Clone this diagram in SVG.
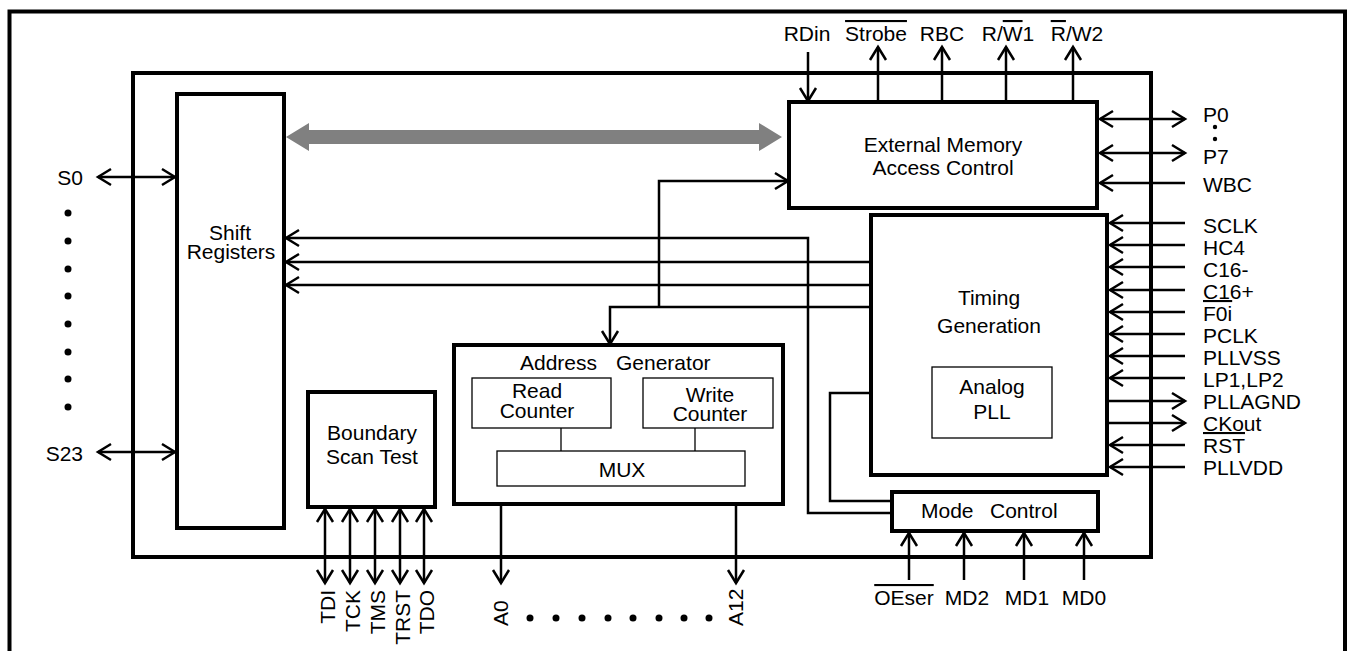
<svg xmlns="http://www.w3.org/2000/svg" width="1351" height="651" viewBox="0 0 1351 651">
<defs>
<style>
.k{fill:none;stroke:#000;stroke-width:4}
.t{fill:none;stroke:#000;stroke-width:1.3}
.w{fill:none;stroke:#000;stroke-width:2.5}
.a{marker-end:url(#ah)}
.d{marker-start:url(#ah);marker-end:url(#ah)}
text{font-family:"Liberation Sans",Arial,Helvetica,sans-serif;font-size:21px;fill:#000}
.c{text-anchor:middle}
.e{text-anchor:end}
.o{text-decoration:overline}
</style>
<marker id="ah" markerUnits="userSpaceOnUse" viewBox="-16 -10 18 20" markerWidth="18" markerHeight="20" refX="0" refY="0" orient="auto-start-reverse" overflow="visible">
<path d="M-13,-8 L0,0 L-13,8" fill="none" stroke="#000" stroke-width="2.5"/>
</marker>
</defs>
<rect width="1351" height="651" fill="#fff"/>
<rect id="frame" x="9.5" y="11.5" width="1335.5" height="700" class="k"/>
<g id="chip"><rect x="133" y="73" width="1018" height="484" class="k"/></g>

<g id="shift-registers">
<rect x="177" y="94" width="107" height="434" class="k"/>
<text class="c" x="230" y="240">Shift</text>
<text class="c" x="231" y="259">Registers</text>
</g>

<g id="external-memory-access-control">
<rect x="789" y="102" width="308" height="106" class="k"/>
<text class="c" x="943" y="152">External Memory</text>
<text class="c" x="943" y="175">Access Control</text>
</g>

<g id="timing-generation">
<rect x="871" y="215" width="236" height="260" class="k"/>
<text class="c" x="989" y="305">Timing</text>
<text class="c" x="989" y="333">Generation</text>
</g>

<g id="analog-pll">
<rect x="932" y="367" width="120" height="71" class="t"/>
<text class="c" x="992" y="394">Analog</text>
<text class="c" x="992" y="419">PLL</text>
</g>

<g id="boundary-scan-test">
<rect x="308" y="392" width="127" height="115" class="k"/>
<text class="c" x="372" y="440">Boundary</text>
<text class="c" x="372" y="464">Scan Test</text>
</g>

<g id="address-generator">
<rect x="454" y="345" width="329" height="159" class="k"/>
<text x="520" y="370">Address<tspan x="616">Generator</tspan></text>
</g>

<g id="read-counter">
<rect x="472" y="378" width="139" height="50" class="t"/>
<text class="c" x="537" y="398">Read</text>
<text class="c" x="537" y="418">Counter</text>
</g>

<g id="write-counter">
<rect x="643" y="378" width="130" height="50" class="t"/>
<text class="c" x="710" y="402">Write</text>
<text class="c" x="710" y="421">Counter</text>
</g>

<g id="mux">
<rect x="497" y="451" width="248" height="35" class="t"/>
<text class="c" x="622" y="477">MUX</text>
</g>

<g id="mode-control">
<rect x="892" y="492" width="206" height="39" class="k"/>
<text x="921" y="518">Mode<tspan x="990">Control</tspan></text>
</g>

<g id="connectors">
<polygon points="286,137 309,123 309,130 759,130 759,123 782,137 759,151 759,144 309,144 309,151" fill="#808080"/>
<line x1="561" y1="428" x2="561" y2="451" class="t"/>
<line x1="695" y1="428" x2="695" y2="451" class="t"/>
<polyline points="871,307 610,307 610,344" class="w a"/>
<polyline points="659,307 659,181 788,181" class="w a"/>
<polyline points="892,513 808,513 808,238 286,238" class="w a"/>
<line x1="871" y1="262" x2="286" y2="262" class="w a"/>
<line x1="871" y1="285" x2="286" y2="285" class="w a"/>
<polyline points="871,393 830,393 830,501 892,501" class="w"/>
<!-- top -->
<line x1="808" y1="52" x2="808" y2="101" class="w a"/>
<line x1="878" y1="102" x2="878" y2="47" class="w a"/>
<line x1="942" y1="102" x2="942" y2="47" class="w a"/>
<line x1="1006" y1="102" x2="1006" y2="47" class="w a"/>
<line x1="1073" y1="102" x2="1073" y2="47" class="w a"/>
<!-- right -->
<line x1="1100" y1="119" x2="1185" y2="119" class="w d"/>
<line x1="1100" y1="153" x2="1185" y2="153" class="w d"/>
<line x1="1185" y1="183" x2="1100" y2="183" class="w a"/>
<line x1="1185" y1="223" x2="1110" y2="223" class="w a"/>
<line x1="1185" y1="245" x2="1110" y2="245" class="w a"/>
<line x1="1185" y1="267" x2="1110" y2="267" class="w a"/>
<line x1="1185" y1="290" x2="1110" y2="290" class="w a"/>
<line x1="1185" y1="312" x2="1110" y2="312" class="w a"/>
<line x1="1185" y1="334" x2="1110" y2="334" class="w a"/>
<line x1="1185" y1="356" x2="1110" y2="356" class="w a"/>
<line x1="1185" y1="378" x2="1110" y2="378" class="w a"/>
<line x1="1109" y1="401" x2="1185" y2="401" class="w a"/>
<line x1="1109" y1="423" x2="1185" y2="423" class="w a"/>
<line x1="1185" y1="445" x2="1110" y2="445" class="w a"/>
<line x1="1185" y1="467" x2="1110" y2="467" class="w a"/>
<!-- left -->
<line x1="98" y1="177" x2="175" y2="177" class="w d"/>
<line x1="98" y1="452" x2="175" y2="452" class="w d"/>
<!-- bottom -->
<line x1="325" y1="509" x2="325" y2="583" class="w d"/>
<line x1="350" y1="509" x2="350" y2="583" class="w d"/>
<line x1="375" y1="509" x2="375" y2="583" class="w d"/>
<line x1="400" y1="509" x2="400" y2="583" class="w d"/>
<line x1="424" y1="509" x2="424" y2="583" class="w d"/>
<line x1="501" y1="506" x2="501" y2="583" class="w a"/>
<line x1="736" y1="506" x2="736" y2="583" class="w a"/>
<line x1="909" y1="580" x2="909" y2="533" class="w a"/>
<line x1="964" y1="580" x2="964" y2="533" class="w a"/>
<line x1="1024" y1="580" x2="1024" y2="533" class="w a"/>
<line x1="1084" y1="580" x2="1084" y2="533" class="w a"/>
</g>

<g id="labels">
<text class="c" x="807" y="41">RDin</text>
<text class="c" x="876" y="41"><tspan class="o">Strobe</tspan></text>
<text class="c" x="942" y="41">RBC</text>
<text class="c" x="1008" y="41">R/<tspan class="o">W</tspan>1</text>
<text class="c" x="1077" y="41"><tspan class="o">R</tspan>/W2</text>

<text x="1203" y="122">P0</text>
<circle cx="1215" cy="127" r="2.2"/>
<circle cx="1215" cy="139" r="2.2"/>
<text x="1203" y="164">P7</text>
<text x="1203" y="192">WBC</text>
<text x="1203" y="233">SCLK</text>
<text x="1203" y="255">HC4</text>
<text x="1203" y="277">C16-</text>
<text x="1203" y="299">C16+</text>
<text x="1203" y="321"><tspan class="o">F0i</tspan></text>
<text x="1203" y="343">PCLK</text>
<text x="1203" y="365">PLLVSS</text>
<text x="1203" y="387">LP1,LP2</text>
<text x="1203" y="409">PLLAGND</text>
<text x="1203" y="431">CKout</text>
<text x="1203" y="453"><tspan class="o">RST</tspan></text>
<text x="1203" y="475">PLLVDD</text>

<text class="e" x="83" y="185">S0</text>
<text class="e" x="83" y="461">S23</text>
<circle cx="68" cy="213" r="3.5"/>
<circle cx="68" cy="241" r="3.5"/>
<circle cx="68" cy="269" r="3.5"/>
<circle cx="68" cy="296" r="3.5"/>
<circle cx="68" cy="324" r="3.5"/>
<circle cx="68" cy="352" r="3.5"/>
<circle cx="68" cy="379" r="3.5"/>
<circle cx="68" cy="407" r="3.5"/>

<text class="e" transform="translate(335,590) rotate(-90)">TDI</text>
<text class="e" transform="translate(360,590) rotate(-90)">TCK</text>
<text class="e" transform="translate(385,590) rotate(-90)">TMS</text>
<text class="e" transform="translate(410,590) rotate(-90)">TRST</text>
<text class="e" transform="translate(434,590) rotate(-90)">TDO</text>

<text transform="translate(508,626) rotate(-90)">A0</text>
<text transform="translate(743,626) rotate(-90)">A12</text>
<circle cx="530" cy="618" r="3.5"/>
<circle cx="556" cy="618" r="3.5"/>
<circle cx="582" cy="618" r="3.5"/>
<circle cx="608" cy="618" r="3.5"/>
<circle cx="633" cy="618" r="3.5"/>
<circle cx="659" cy="618" r="3.5"/>
<circle cx="684" cy="618" r="3.5"/>
<circle cx="709" cy="618" r="3.5"/>

<text class="c" x="904" y="605"><tspan class="o">OEser</tspan></text>
<text class="c" x="967" y="605">MD2</text>
<text class="c" x="1027" y="605">MD1</text>
<text class="c" x="1084" y="605">MD0</text>
</g>
</svg>
